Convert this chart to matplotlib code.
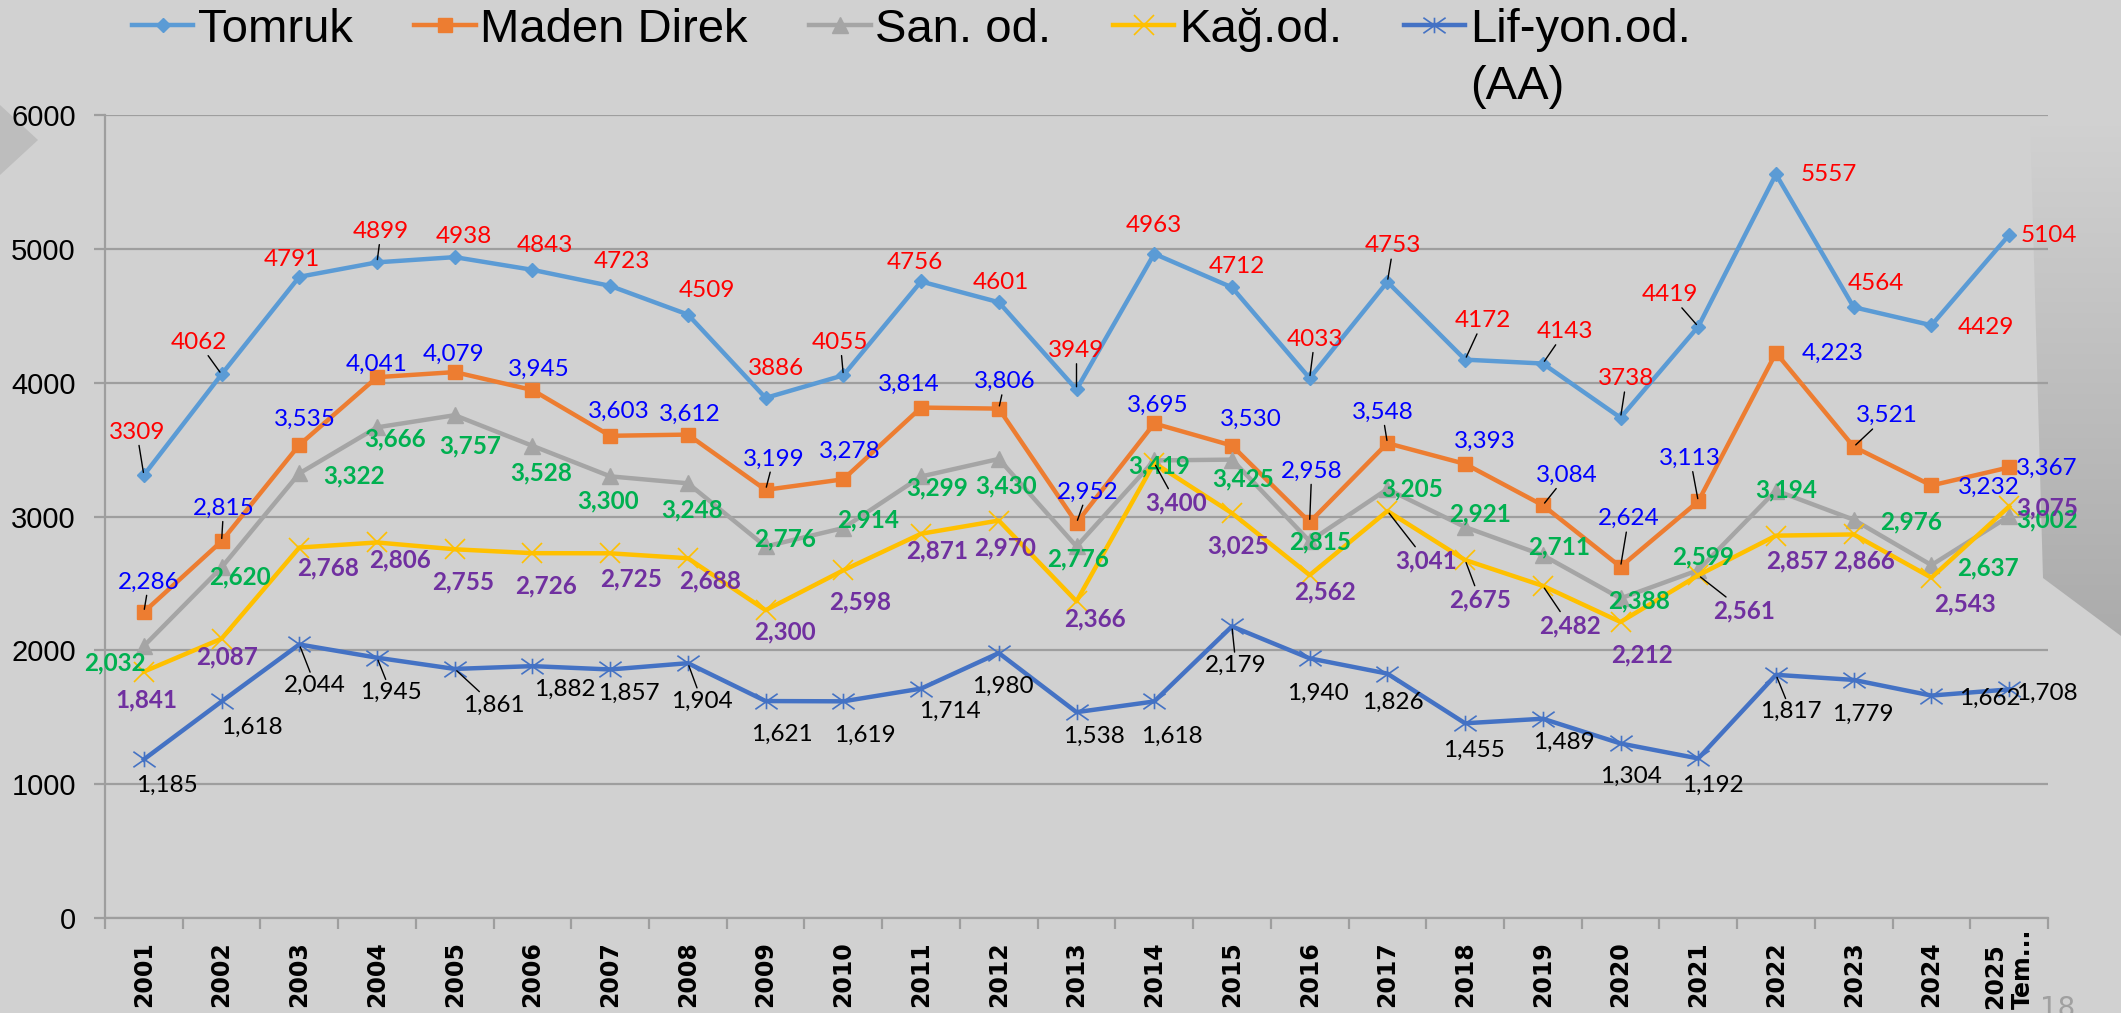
import matplotlib
matplotlib.use("Agg")
import matplotlib.pyplot as plt
import matplotlib.transforms as mtransforms
from matplotlib.path import Path
from matplotlib.patches import Polygon
import numpy as np

# veriler
years = [str(y) for y in range(2001, 2025)] + ["2025\nTem..."]
tomruk = [3309, 4062, 4791, 4899, 4938, 4843, 4723, 4509, 3886, 4055, 4756, 4601, 3949,
          4963, 4712, 4033, 4753, 4172, 4143, 3738, 4419, 5557, 4564, 4429, 5104]
maden = [2286, 2815, 3535, 4041, 4079, 3945, 3603, 3612, 3199, 3278, 3814, 3806, 2952,
         3695, 3530, 2958, 3548, 3393, 3084, 2624, 3113, 4223, 3521, 3232, 3367]
san_od = [2032, 2620, 3322, 3666, 3757, 3528, 3300, 3248, 2776, 2914, 3299, 3430, 2776,
          3419, 3425, 2815, 3205, 2921, 2711, 2388, 2599, 3194, 2976, 2637, 3002]
kag_od = [1841, 2087, 2768, 2806, 2755, 2726, 2725, 2688, 2300, 2598, 2871, 2970, 2366,
          3400, 3025, 2562, 3041, 2675, 2482, 2212, 2561, 2857, 2866, 2543, 3075]
lif_od = [1185, 1618, 2044, 1945, 1861, 1882, 1857, 1904, 1621, 1619, 1714, 1980, 1538,
          1618, 2179, 1940, 1826, 1455, 1489, 1304, 1192, 1817, 1779, 1662, 1708]

# etiket kaydirmalari (piksel, y asagi pozitif)
tomruk_off = [(-7, -43), (-23, -32), (-7, -17), (4, -31), (9, -21), (12, -24), (12, -24), (19, -24),
              (10, -29), (-3, -33), (-6, -19), (2, -20), (0, -39), (0, -28), (5, -21), (5, -39),
              (6, -36), (18, -39), (22, -32), (6, -39), (-28, -32), (53, 0), (22, -24), (54, 2), (40, 1)]
maden_off = [(5, -30), (2, -33), (6, -26), (0, -13), (-1, -18), (6, -21), (9, -24), (2, -20),
             (8, -31), (6, -28), (-12, -23), (6, -27), (11, -31), (4, -18), (19, -26), (2, -51),
             (-5, -31), (20, -23), (24, -30), (8, -48), (-8, -43), (57, 1), (33, -31), (57, 2), (38, 1)]
san_off = [(-29, 17), (18, 10), (55, 3), (18, 12), (15, 31), (9, 27), (-2, 25), (4, 27),
           (19, -8), (25, -8), (16, 11), (7, 27), (2, 12), (5, 5), (11, 19), (10, 1),
           (25, 0), (15, -13), (16, -8), (19, 3), (5, -13), (10, -1), (57, 2), (57, 3), (38, 4)]
kag_off = [(3, 28), (5, 18), (29, 20), (23, 17), (8, 33), (14, 33), (21, 26), (22, 23),
           (19, 22), (17, 32), (16, 17), (6, 27), (18, 18), (22, 40), (6, 33), (15, 17),
           (39, 50), (15, 40), (27, 40), (21, 33), (46, 36), (21, 25), (10, 26), (34, 26), (38, 1)]
lif_off = [(23, 26), (30, 26), (16, 41), (14, 35), (39, 36), (32, 23), (19, 24), (14, 38),
           (16, 33), (22, 34), (29, 23), (4, 33), (17, 24), (18, 35), (4, 39), (8, 35),
           (5, 29), (9, 27), (21, 24), (10, 33), (15, 27), (15, 37), (9, 34), (58, 3), (38, 4)]

# cizgili etiketler
tomruk_lead = [0, 1, 3, 9, 12, 15, 16, 17, 18, 19, 20]
maden_lead = [0, 1, 8, 11, 12, 15, 16, 18, 19, 20, 22]
kag_lead = [13, 16, 17, 18, 20]
lif_lead = [2, 3, 4, 7, 14, 21]

W, H = 2121, 1013
fig = plt.figure(figsize=(W / 100, H / 100), dpi=100, facecolor="#D1D1D1")

# arka plan: sag kenarda kivrik sayfa golgesi
bg = fig.add_axes([0, 0, 1, 1], zorder=-5)
bg.set_xlim(0, W)
bg.set_ylim(H, 0)
bg.axis("off")
grad = np.zeros((100, 2, 4))
grad[..., :3] = 0.55
grad[..., 3] = np.linspace(0.0, 0.55, 100)[:, None]
shade = Polygon([(2030, 120), (W, 120), (W, 636), (2043, 578)], closed=True,
                facecolor="none", edgecolor="none")
bg.add_patch(shade)
im = bg.imshow(grad, extent=(2030, W, 640, 120), aspect="auto", interpolation="bilinear")
im.set_clip_path(shade)
bg.add_patch(Polygon([(0, 105), (38, 140), (0, 175)], closed=True,
                     facecolor="#BDBDBD", edgecolor="none"))

ax = fig.add_axes([105 / W, 1 - 918 / H, 1943 / W, (918 - 115) / H])
ax.set_facecolor("none")

x = np.arange(len(years))

star = Path([(0, -0.7), (0, 0.7), (-1, -0.7), (1, 0.7), (-1, 0.7), (1, -0.7)],
            [Path.MOVETO, Path.LINETO, Path.MOVETO, Path.LINETO, Path.MOVETO, Path.LINETO])

series = [
    ("Tomruk", tomruk, "#5B9BD5", "D", 7.5, "#FF0000", "normal", tomruk_off, tomruk_lead, False),
    ("Maden Direk", maden, "#ED7D31", "s", 10.5, "#0000FF", "normal", maden_off, maden_lead, True),
    ("San. od.", san_od, "#A5A5A5", "^", 11, "#00B050", "bold", san_off, [], True),
    ("Kağ.od.", kag_od, "#FFC000", "x", 14, "#7030A0", "bold", kag_off, kag_lead, True),
    ("Lif-yon.od.", lif_od, "#4472C4", star, 16, "black", "normal", lif_off, lif_lead, True),
]

handles = []
for name, vals, col, mk, ms, lcol, fw, offs, leads, comma in series:
    thin = mk == "x" or mk is star
    h, = ax.plot(x, vals, color=col, lw=3.2, marker=mk, ms=ms, mec=col, mfc=col,
                 mew=1.2 if thin else 1, zorder=3, label=name)
    handles.append(h)
    for i, v in enumerate(vals):
        txt = f"{v:,}" if comma else str(v)
        dx, dy = offs[i]
        kw = {}
        if i in leads:
            kw["arrowprops"] = dict(arrowstyle="-", color="black", lw=1.0, shrinkA=0, shrinkB=2)
        ax.annotate(txt, xy=(i, v), xytext=(dx, -dy), textcoords="offset pixels",
                    ha="center", va="center", fontsize=17.5, family="Lato", fontweight=fw,
                    color=lcol, zorder=6, **kw)

ax.set_xlim(-0.5, len(years) - 0.5)
ax.set_ylim(0, 6000)
ax.set_yticks(range(0, 7000, 1000))
ax.yaxis.grid(True, color="#9E9E9E", lw=1.6)
ax.set_axisbelow(True)
for s in ["top", "right"]:
    ax.spines[s].set_visible(False)
for s in ["left", "bottom"]:
    ax.spines[s].set_color("#9E9E9E")
    ax.spines[s].set_linewidth(1.6)

# kategori sinirlarinda tik, ortada etiket
ax.set_xticks(np.arange(-0.5, len(years), 1))
ax.set_xticklabels([])
ax.set_xticks(x, minor=True)
ax.set_xticklabels(years[:-1] + [""], minor=True, rotation=90, va="top", ha="center",
                   family="DejaVu Sans", fontweight="bold", fontsize=17)
ax.tick_params(axis="x", which="major", length=8, color="#9E9E9E", width=1.6)
ax.tick_params(axis="x", which="minor", length=0, pad=17)
ax.tick_params(axis="y", length=8, color="#9E9E9E", width=1.6, pad=13, labelsize=21)
for t in ax.get_yticklabels():
    t.set_family("Liberation Sans")

# son kategori etiketi alta yaslanir
last_tr = mtransforms.blended_transform_factory(ax.transData, fig.transFigure)
ax.text(x[-1], 1 - 1009 / H, years[-1], transform=last_tr, rotation=90, ha="center",
        va="bottom", multialignment="left", family="DejaVu Sans", fontweight="bold",
        fontsize=17, clip_on=False)

leg = fig.legend(handles=handles, loc="upper left", bbox_to_anchor=(132 / W, 1 - 8 / H), ncol=5,
                 frameon=False, prop={"family": "Liberation Sans", "size": 34},
                 handlelength=1.3, handletextpad=0.1, columnspacing=1.3,
                 borderpad=0, borderaxespad=0)

fig.canvas.draw()
bb = leg.get_texts()[4].get_window_extent()
fig.text(bb.x0 / W, (bb.y0 - 13) / H, "(AA)", ha="left", va="top",
         family="Liberation Sans", fontsize=34)

fig.text(2040 / W, 1 - 995 / H, "18", ha="left", va="top", color="#A0A0A0", fontsize=20)

fig.savefig("out.png", dpi=100, facecolor=fig.get_facecolor())
